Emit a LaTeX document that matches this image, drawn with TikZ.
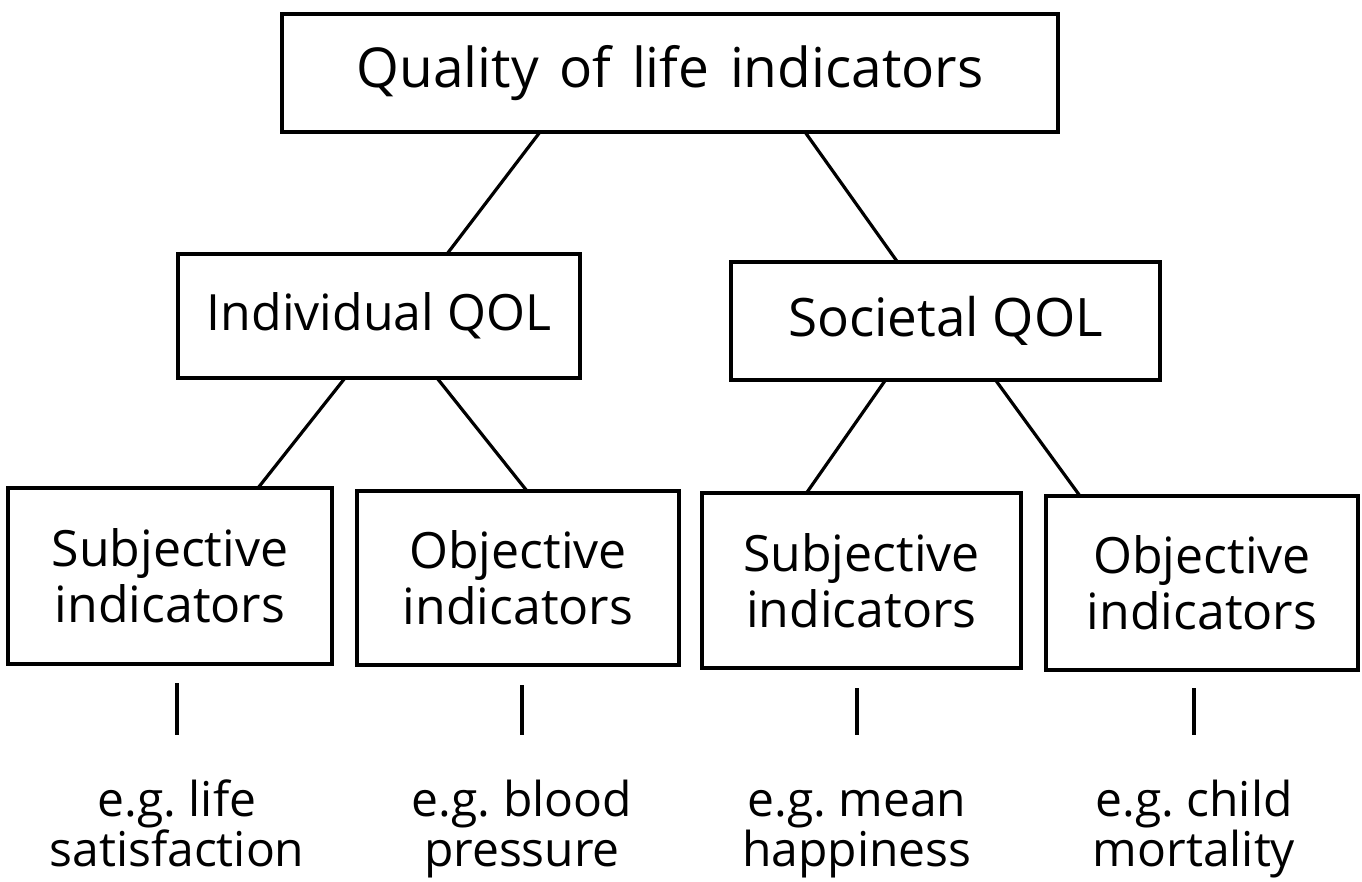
\documentclass[tikz,border=0pt]{standalone}
\usepackage{fontspec}
\setmainfont{Open Sans}
\newfontfamily\widefont{Open Sans}[WordSpace=1.45]
\usetikzlibrary{calc}
\frenchspacing
\lineskiplimit=-100pt

\begin{document}
\begin{tikzpicture}[x=1pt,y=-1pt,line width=3.2pt,
  box/.style={draw,line width=4pt,inner sep=0pt,outer sep=0pt,align=center,
    font=\fontsize{50}{56}\selectfont},
  ex/.style={inner xsep=0pt,inner ysep=45pt,outer sep=0pt,align=center,
    anchor=north,font=\fontsize{48}{50}\selectfont}]
\useasboundingbox (0,0) rectangle (1362,881);

% top
\node[box,minimum width=776,minimum height=118,font=\widefont\fontsize{55}{60}\selectfont]
  (q) at (670,73) {Quality of life indicators};

% second level
\node[box,minimum width=402,minimum height=124] (i) at (379,316) {Individual QOL};
\node[box,minimum width=429,minimum height=118,font=\fontsize{53}{56}\selectfont]
  (s) at (945.5,321) {Societal QOL};

% third level
\node[box,minimum width=324,minimum height=176] (i1) at (170,576) {Subjective\\indicators};
\node[box,minimum width=322,minimum height=174] (i2) at (518,578) {Objective\\indicators};
\node[box,minimum width=319,minimum height=175] (s1) at (861.5,580.5) {Subjective\\indicators};
\node[box,minimum width=312,minimum height=174] (s2) at (1202,583) {Objective\\indicators};

% examples
\node[ex] (e1) at (177,735) {\vphantom{l}e.g. life\\satisfaction};
\node[ex] (e2) at (522,735) {\vphantom{l}e.g. blood\\pressure};
\node[ex] (e3) at (857,735) {\vphantom{l}e.g. mean\\happiness};
\node[ex] (e4) at (1194,735) {\vphantom{l}e.g. child\\mortality};

\coordinate (c1) at (177,683);
\coordinate (c2) at (522,685);
\coordinate (c3) at (857,688);
\coordinate (c4) at (1194,688);

\draw ($(q.south)+(-130,0)$) -- ($(i.north)+(68,0)$);
\draw ($(q.south)+(135,0)$) -- ($(s.north)+(-48,0)$);

\draw ($(i.south)+(-34,0)$) -- ($(i1.north)+(88,0)$);
\draw ($(i.south)+(58,0)$) -- ($(i2.north)+(9,0)$);
\draw ($(s.south)+(-60,0)$) -- ($(s1.north)+(-55,0)$);
\draw ($(s.south)+(50,0)$) -- ($(s2.north)+(-122,0)$);

\draw (c1) -- (e1);
\draw (c2) -- (e2);
\draw (c3) -- (e3);
\draw (c4) -- (e4);

\end{tikzpicture}
\end{document}
